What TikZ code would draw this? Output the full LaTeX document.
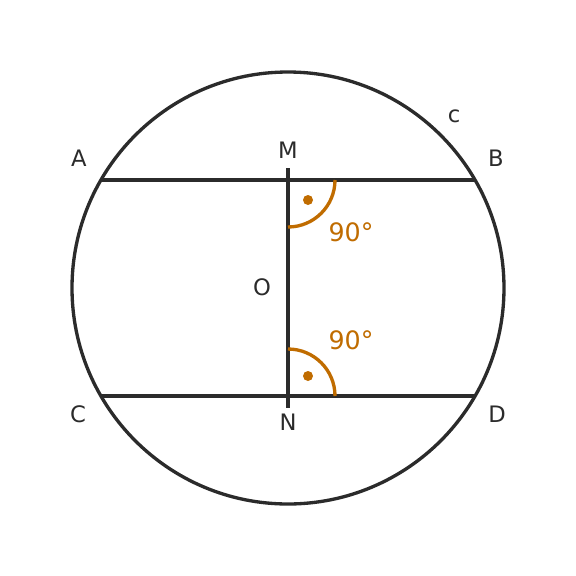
\documentclass[tikz,border=0pt]{standalone}
\usepackage{fontspec}
\setmainfont{DejaVu Sans}
\definecolor{inkdark}{RGB}{43,43,43}
\definecolor{angleorange}{RGB}{192,108,0}
\tikzset{every picture/.style={line width=2.5pt}}
\tikzset{
  lbl/.style={inner sep=0.75pt, text=inkdark, font=\fontsize{17}{20}\selectfont},
  anglbl/.style={inner sep=0.75pt, text=angleorange, font=\fontsize{19}{22}\selectfont},
}

\begin{document}
\begin{tikzpicture}[x=0.75pt,y=0.75pt,yscale=-1,xscale=1]
	%set diagram at 576 x 576
	\path (0,0) rectangle (576,576);
	
	%Points
	\coordinate (O) at (288,288);
	\coordinate (A) at (101,180);
	\coordinate (B) at (475,180);
	\coordinate (C) at (101,396);
	\coordinate (D) at (475,396);
	\coordinate (M) at (288,168);
	\coordinate (N) at (288,408);
	
	%Shape: Circle
	\draw [color=inkdark] (O) circle [radius=162pt];
	%Chords
	\draw [color=inkdark] (A) -- (B);
	\draw [color=inkdark] (C) -- (D);
	\draw [color=inkdark] (M) -- (N);
	
	%Right angles
	\draw [color=angleorange] (288,227) arc [start angle=90, end angle=0, radius=35.25pt];
	\draw [color=angleorange] (288,349) arc [start angle=270, end angle=360, radius=35.25pt];
	\fill [color=angleorange] (308,200) circle [radius=3.75pt];
	\fill [color=angleorange] (308,376) circle [radius=3.75pt];
	
	\node [lbl] (labA) at (79,158) {A};
	\node [lbl] (labB) at (496,158) {B};
	\node [lbl] (labC) at (78,414) {C};
	\node [lbl] (labD) at (497,414) {D};
	\node [lbl] (labM) at (288,150) {M};
	\node [lbl] (labN) at (288,422) {N};
	\node [lbl] (labO) at (262,287) {O};
	\node [lbl] (labc) at (454,116) {c};
	\node [anglbl] (ang1) at (351,232) {90°};
	\node [anglbl] (ang2) at (351,340) {90°};
	
\end{tikzpicture}
\end{document}
